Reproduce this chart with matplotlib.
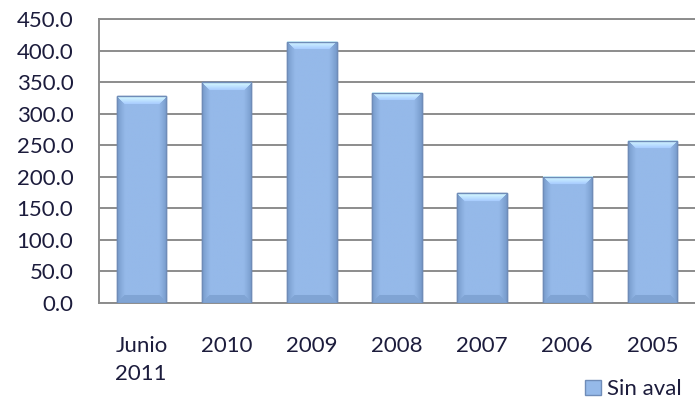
import matplotlib
matplotlib.use("Agg")
import matplotlib.pyplot as plt
import numpy as np
from matplotlib.patches import Patch

# datos del gráfico
categories = ["Junio\n2011", "2010", "2009", "2008", "2007", "2006", "2005"]
sin_aval = [328.0, 350.0, 414.0, 333.0, 174.0, 200.0, 257.0]
y_ticks = [0, 50, 100, 150, 200, 250, 300, 350, 400, 450]

plt.rcParams["font.family"] = ["Lato", "DejaVu Sans"]
text_color = "#1c1c3c"
bar_color = "#95b9e9"
edge_color = "#6f8cb8"

fig = plt.figure(figsize=(6.95, 4.12), dpi=100)
ax = fig.add_axes([0.1424, 0.2646, 0.8576, 0.6893])

x = np.arange(len(categories))
bars = ax.bar(x, sin_aval, width=0.58, color=bar_color, edgecolor=edge_color,
              linewidth=1.0, zorder=3)

# escala aproximada en pixeles para el bisel
px_per_unit_y = 0.6893 * 412 / 450.0
px_per_unit_x = 0.8576 * 695 / len(categories)

base = np.array([0x95, 0xb9, 0xe9]) / 255.0
for b in bars:
    bx, by, bw, bh = b.get_x(), b.get_y(), b.get_width(), b.get_height()
    wpx = max(int(bw * px_per_unit_x), 2)
    hpx = max(int(bh * px_per_unit_y), 2)
    X, Y = np.meshgrid(np.arange(wpx) + 0.5, np.arange(hpx) + 0.5)
    dl, dr = X, wpx - X
    db, dt = Y, hpx - Y
    shade = np.zeros_like(X)
    bev = 8.0
    side = np.minimum(dl, dr)
    shade -= np.clip((bev - side) / bev, 0, 1) * 0.12
    top_m = np.clip((bev - dt) / bev, 0, 1)
    top_zone = (dt < bev) & (dt <= side)
    shade = np.where(top_zone, 0.20 * top_m + 0.07, shade)
    bot_zone = (db < bev) & (db <= side)
    shade = np.where(bot_zone, -0.08, shade)
    img = np.clip(base[None, None, :] + shade[:, :, None], 0, 1)
    ax.imshow(img, extent=[bx, bx + bw, by, by + bh], origin="lower",
              aspect="auto", zorder=3.5, interpolation="bilinear")
    ax.add_patch(plt.Rectangle((bx, by), bw, bh, fill=False,
                               edgecolor=edge_color, linewidth=1.0, zorder=4))

ax.set_xlim(-0.5, len(categories) - 0.5)
ax.set_ylim(0, 450)
ax.set_yticks(y_ticks)
ax.set_yticklabels([f"{t:.1f}" for t in y_ticks])
ax.set_xticks(x)
ax.set_xticklabels(categories, ha="center", va="top", linespacing=1.5)
ax.yaxis.grid(True, color="#8c8c8c", linewidth=1.4, zorder=0)
ax.set_axisbelow(True)

for s in ["left", "bottom", "top"]:
    ax.spines[s].set_color("#8c8c8c")
    ax.spines[s].set_linewidth(1.4)
ax.spines["right"].set_visible(False)

ax.tick_params(axis="both", length=0, labelsize=16, colors=text_color)
ax.tick_params(axis="y", pad=18.5)
ax.tick_params(axis="x", pad=24)
for lbl in ax.get_xticklabels():
    lbl.set_multialignment("left")

handle = Patch(facecolor=bar_color, edgecolor=edge_color)
fig.legend([handle], ["Sin aval"], loc="lower right", bbox_to_anchor=(1.01, -0.018),
           frameon=False, fontsize=16, handlelength=0.7, handleheight=0.7,
           handletextpad=0.3, labelcolor=text_color)

fig.savefig("out.png", dpi=100)
